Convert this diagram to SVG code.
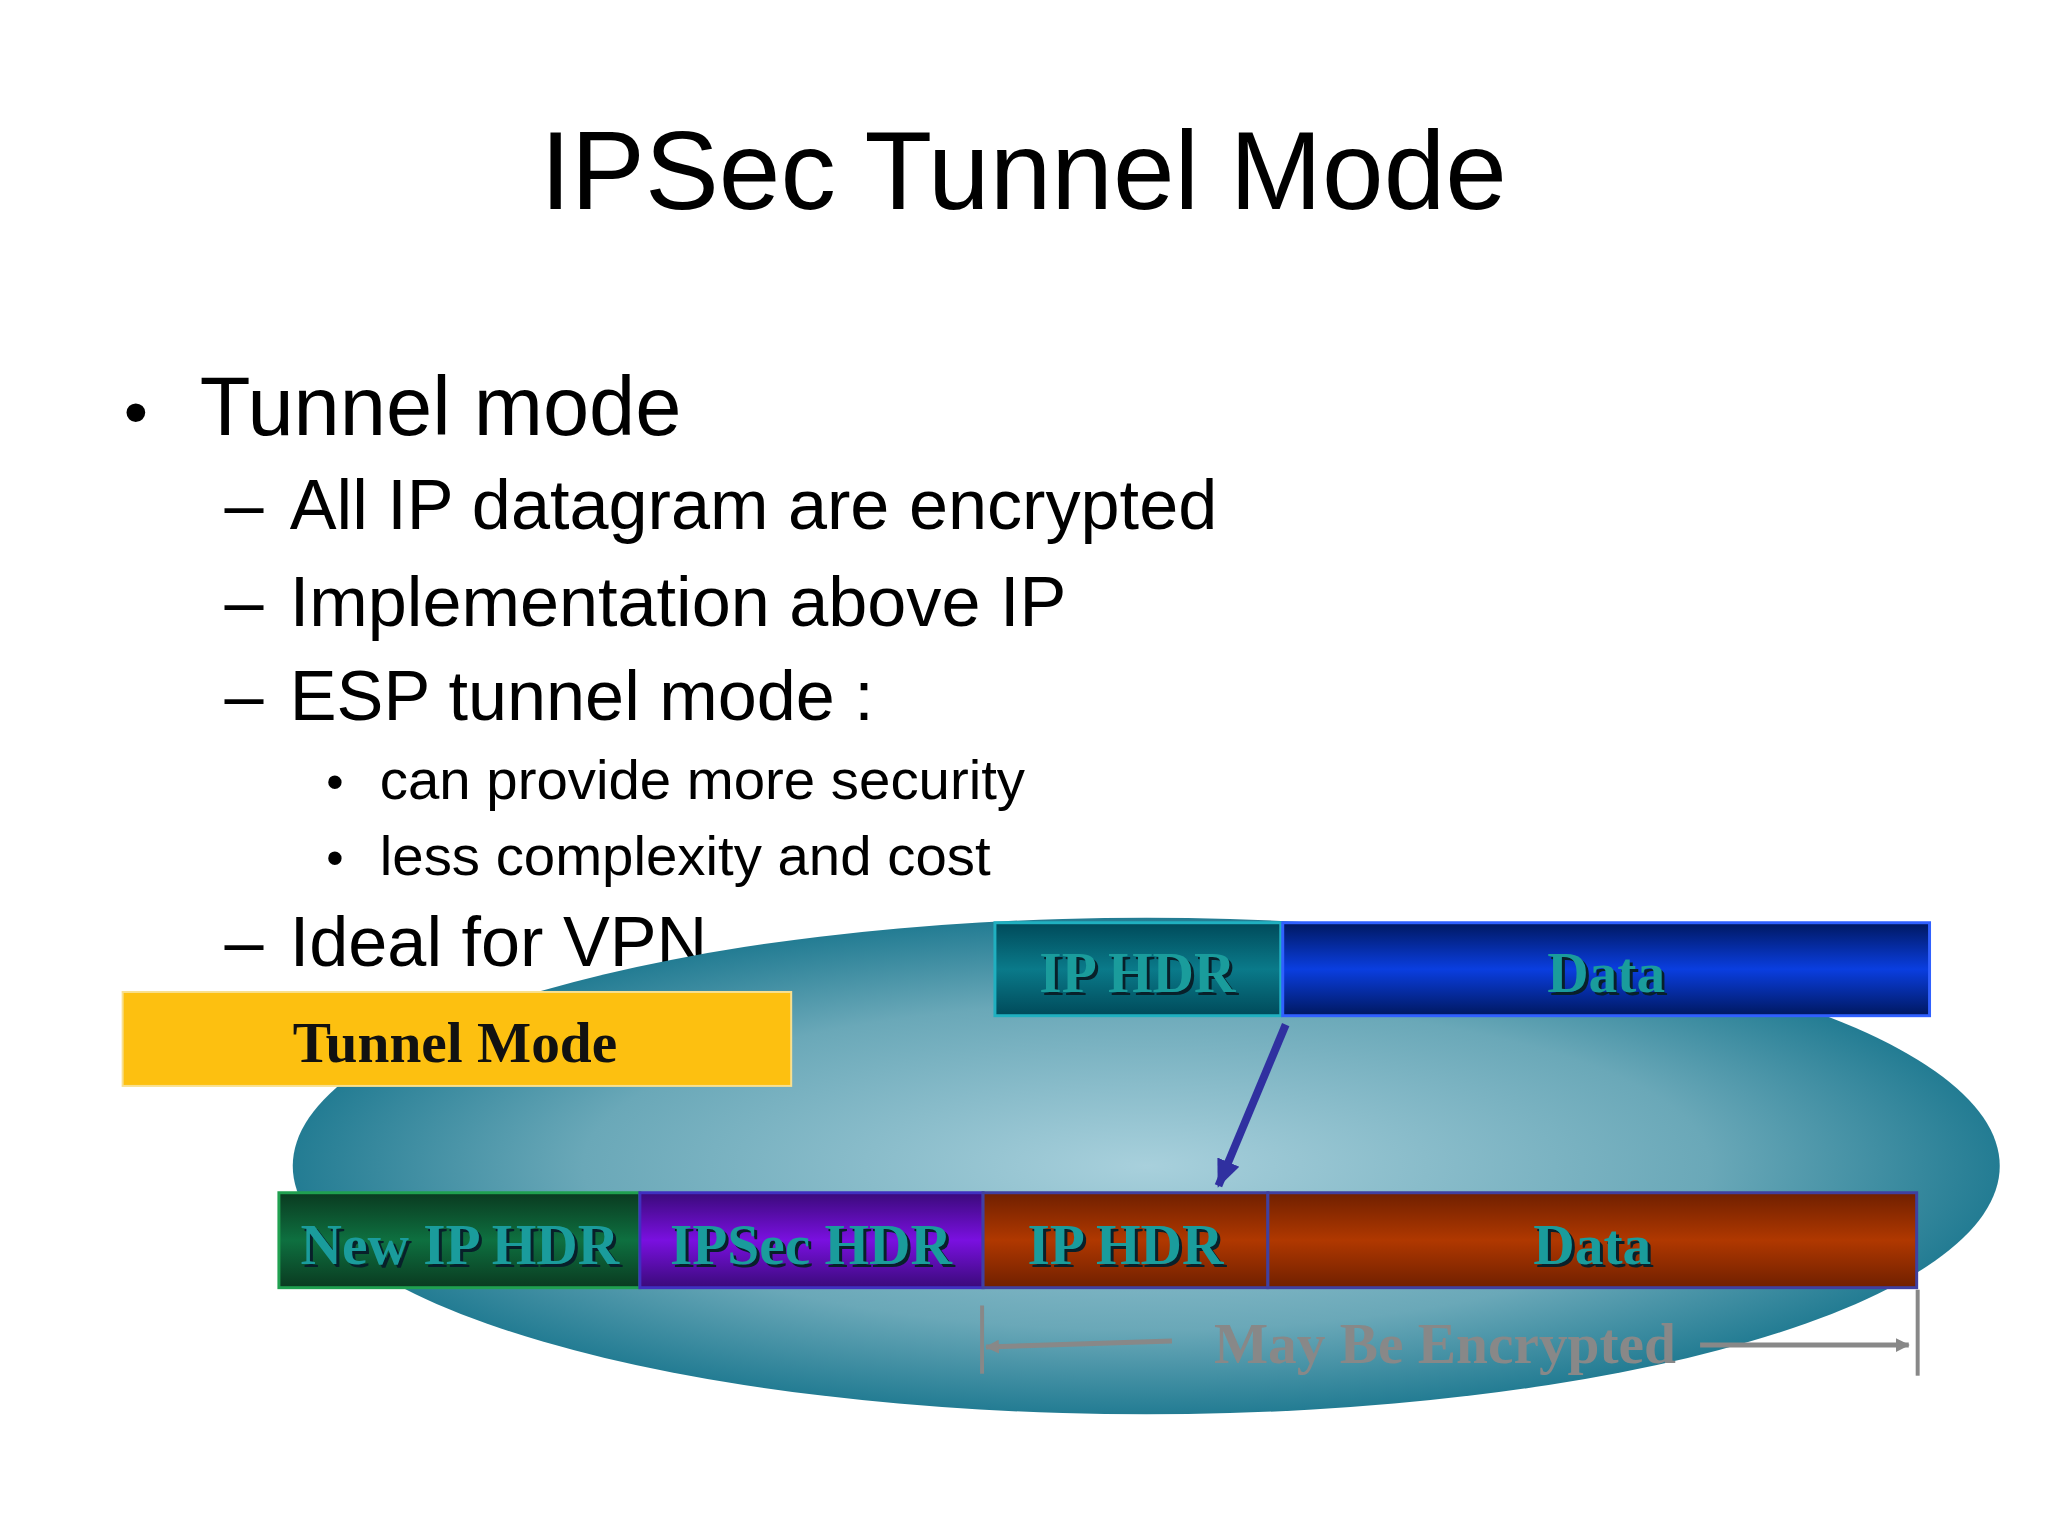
<svg xmlns="http://www.w3.org/2000/svg" width="2048" height="1536" viewBox="0 0 2048 1536">
<defs>
<radialGradient id="ell" cx="0.5" cy="0.5" r="0.55">
<stop offset="0" stop-color="#a8d0dc"/><stop offset="0.6" stop-color="#6aa8b8"/><stop offset="1" stop-color="#0e6f88"/>
</radialGradient>
<linearGradient id="teal" x1="0" y1="0" x2="0" y2="1"><stop offset="0" stop-color="#004a5a"/><stop offset="0.5" stop-color="#0a7a8a"/><stop offset="1" stop-color="#004a5a"/></linearGradient>
<linearGradient id="blue" x1="0" y1="0" x2="0" y2="1"><stop offset="0" stop-color="#001860"/><stop offset="0.5" stop-color="#0a3ee0"/><stop offset="1" stop-color="#001860"/></linearGradient>
<linearGradient id="green" x1="0" y1="0" x2="0" y2="1"><stop offset="0" stop-color="#0a3a20"/><stop offset="0.5" stop-color="#0e7040"/><stop offset="1" stop-color="#0a3a20"/></linearGradient>
<linearGradient id="purple" x1="0" y1="0" x2="0" y2="1"><stop offset="0" stop-color="#3a0a7a"/><stop offset="0.5" stop-color="#7a10e0"/><stop offset="1" stop-color="#3a0a7a"/></linearGradient>
<linearGradient id="red" x1="0" y1="0" x2="0" y2="1"><stop offset="0" stop-color="#702000"/><stop offset="0.5" stop-color="#b03800"/><stop offset="1" stop-color="#702000"/></linearGradient>
<marker id="ga" markerWidth="14" markerHeight="14" refX="13" refY="7" orient="auto" markerUnits="userSpaceOnUse"><path d="M0,0 L14,7 L0,14 z" fill="#888"/></marker>
<marker id="ba" markerWidth="30" markerHeight="30" refX="26" refY="15" orient="auto" markerUnits="userSpaceOnUse"><path d="M0,3 L28,15 L0,27 z" fill="#3030a0"/></marker>
</defs>
<style>
.s{font-family:"Liberation Sans",Arial,sans-serif;fill:#000}
.b{font-family:"Liberation Serif","Times New Roman",serif;font-weight:bold;font-size:58px;text-anchor:middle}
.bt{fill:#1a9c9c}
.sh{fill:#08202a}
</style>
<rect width="2048" height="1536" fill="#fff"/>
<g transform="scale(0.989)">
<text class="s" x="1035" y="211" font-size="112" text-anchor="middle">IPSec Tunnel Mode</text>
<g class="s">
<text x="125" y="440" font-size="70">•</text><text x="202" y="440" font-size="84">Tunnel mode</text>
<text x="227" y="535" font-size="71">–</text><text x="293" y="535" font-size="71">All IP datagram are encrypted</text>
<text x="227" y="633" font-size="71">–</text><text x="293" y="633" font-size="71">Implementation above IP</text>
<text x="227" y="728" font-size="71">–</text><text x="293" y="728" font-size="71">ESP tunnel mode :</text>
<text x="330" y="808" font-size="50">•</text><text x="384" y="808" font-size="57">can provide more security</text>
<text x="330" y="885" font-size="50">•</text><text x="384" y="885" font-size="57">less complexity and cost</text>
<text x="227" y="977" font-size="71">–</text><text x="293" y="977" font-size="71">Ideal for VPN</text>
</g>
<g id="ellipse"><ellipse cx="1159" cy="1179" rx="863" ry="251" fill="url(#ell)"/></g>
<g id="tunnelmode"><rect x="124" y="1003" width="676" height="95" fill="#fdc010" stroke="#f8e090" stroke-width="2"/>
<text x="460" y="1074" class="b" fill="#111" font-size="56">Tunnel Mode</text></g>
<g id="top">
<rect x="1006" y="933" width="289" height="94" fill="url(#teal)" stroke="#20b0c0" stroke-width="3"/>
<rect x="1297" y="933" width="654" height="94" fill="url(#blue)" stroke="#3060ff" stroke-width="3"/>
<text x="1153" y="1006" class="b sh">IP HDR</text><text x="1150" y="1003" class="b bt">IP HDR</text>
<text x="1627" y="1006" class="b sh">Data</text><text x="1624" y="1003" class="b bt">Data</text>
</g>
<g id="bottom">
<rect x="282" y="1206" width="365" height="96" fill="url(#green)" stroke="#20a050" stroke-width="3"/>
<rect x="647" y="1206" width="347" height="96" fill="url(#purple)" stroke="#4030c0" stroke-width="3"/>
<rect x="994" y="1206" width="288" height="96" fill="url(#red)" stroke="#4040a0" stroke-width="3"/>
<rect x="1282" y="1206" width="656" height="96" fill="url(#red)" stroke="#4040a0" stroke-width="3"/>
<text x="468" y="1281" class="b sh">New IP HDR</text><text x="465" y="1278" class="b bt">New IP HDR</text>
<text x="823" y="1281" class="b sh">IPSec HDR</text><text x="820" y="1278" class="b bt">IPSec HDR</text>
<text x="1141" y="1281" class="b sh">IP HDR</text><text x="1138" y="1278" class="b bt">IP HDR</text>
<text x="1613" y="1281" class="b sh">Data</text><text x="1610" y="1278" class="b bt">Data</text>
</g>
<g id="connectors">
<line x1="1300" y1="1036" x2="1232" y2="1199" stroke="#3030a0" stroke-width="8" marker-end="url(#ba)"/>
<line x1="993" y1="1320" x2="993" y2="1389" stroke="#888" stroke-width="4"/>
<line x1="1939" y1="1304" x2="1939" y2="1391" stroke="#888" stroke-width="4"/>
<line x1="1185" y1="1356" x2="997" y2="1362" stroke="#888" stroke-width="5" marker-end="url(#ga)"/>
<line x1="1719" y1="1360" x2="1930" y2="1360" stroke="#888" stroke-width="5" marker-end="url(#ga)"/>
</g>
<text x="1461" y="1378" class="b" font-size="52" fill="#888">May Be Encrypted</text>
</g>
</svg>
